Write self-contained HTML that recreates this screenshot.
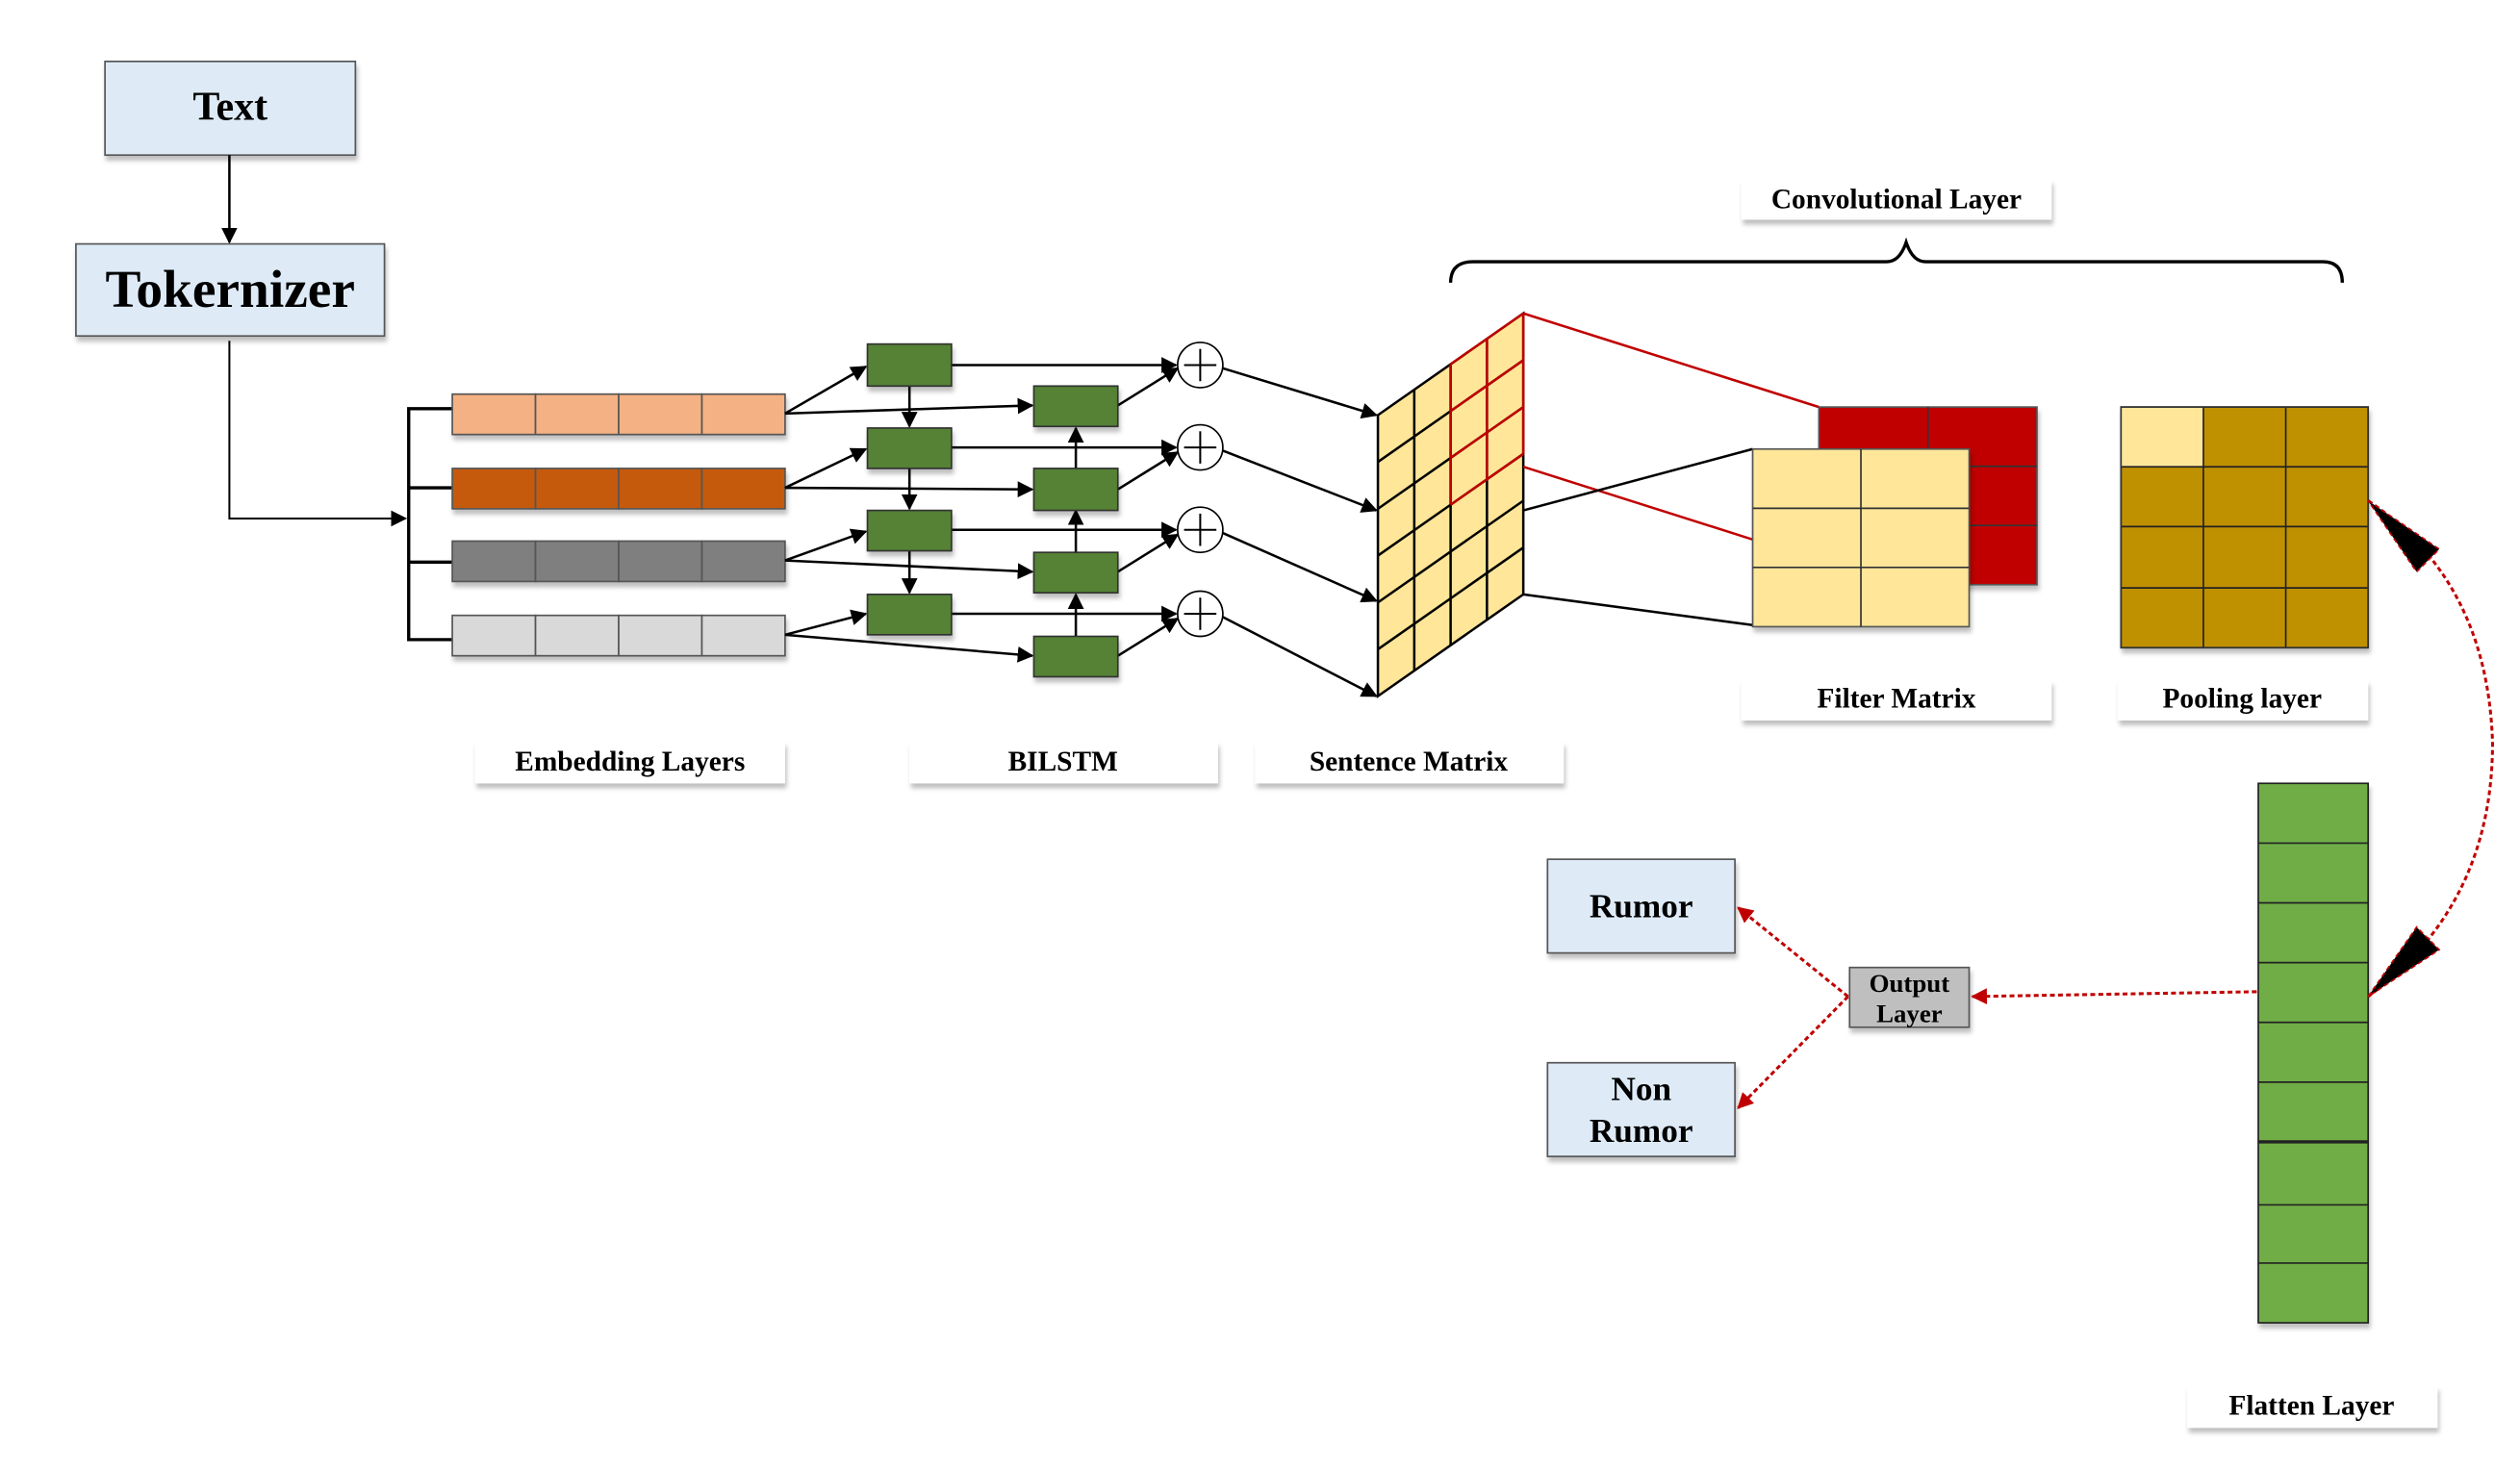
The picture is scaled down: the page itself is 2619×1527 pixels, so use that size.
<!DOCTYPE html>
<html><head><meta charset="utf-8"><style>
html,body{margin:0;padding:0;background:#fff;}
svg{display:block;}
text{font-family:"Liberation Serif",serif;font-weight:bold;fill:#000;}
</style></head><body>
<svg width="2619" height="1527" viewBox="0 0 1560 909.5" xmlns="http://www.w3.org/2000/svg">
<defs>
<marker id="a" markerWidth="10" markerHeight="10" refX="9" refY="5" orient="auto" markerUnits="userSpaceOnUse"><path d="M0,0 L10,5 L0,10 z" fill="#000"/></marker>
<marker id="r" markerWidth="10" markerHeight="10" refX="9" refY="5" orient="auto" markerUnits="userSpaceOnUse"><path d="M0,0 L10,5 L0,10 z" fill="#c00000"/></marker>
<filter id="sh" x="-10%" y="-10%" width="130%" height="150%"><feDropShadow dx="1" dy="3" stdDeviation="1.5" flood-color="#000" flood-opacity="0.25"/></filter>
</defs>

<rect x="65" y="38" width="155" height="58" fill="#deebf7" stroke="#555" stroke-width="1" filter="url(#sh)"/>
<text x="142.5" y="74" font-size="25" text-anchor="middle">Text</text>
<line x1="142" y1="96" x2="142" y2="150" stroke="#000" stroke-width="1.5" marker-end="url(#a)"/>
<rect x="47" y="151" width="191" height="57" fill="#deebf7" stroke="#555" stroke-width="1" filter="url(#sh)"/>
<text x="142.5" y="190" font-size="33" text-anchor="middle">Tokernizer</text>
<polyline points="142,211 142,321 251,321" fill="none" stroke="#000" stroke-width="1.2" marker-end="url(#a)"/>

<polyline points="280,253 253,253 253,396 280,396" fill="none" stroke="#000" stroke-width="2"/>
<line x1="253" y1="302" x2="280" y2="302" stroke="#000" stroke-width="2"/>
<line x1="253" y1="348" x2="280" y2="348" stroke="#000" stroke-width="2"/>

<g stroke="#555" stroke-width="1" filter="url(#sh)">
<g fill="#f4b183"><rect x="280" y="244" width="51.5" height="25"/><rect x="331.5" y="244" width="51.5" height="25"/><rect x="383" y="244" width="51.5" height="25"/><rect x="434.5" y="244" width="51.5" height="25"/></g>
<g fill="#c55a11"><rect x="280" y="290" width="51.5" height="25"/><rect x="331.5" y="290" width="51.5" height="25"/><rect x="383" y="290" width="51.5" height="25"/><rect x="434.5" y="290" width="51.5" height="25"/></g>
<g fill="#7f7f7f"><rect x="280" y="335" width="51.5" height="25"/><rect x="331.5" y="335" width="51.5" height="25"/><rect x="383" y="335" width="51.5" height="25"/><rect x="434.5" y="335" width="51.5" height="25"/></g>
<g fill="#d9d9d9"><rect x="280" y="381" width="51.5" height="25"/><rect x="331.5" y="381" width="51.5" height="25"/><rect x="383" y="381" width="51.5" height="25"/><rect x="434.5" y="381" width="51.5" height="25"/></g>
</g>

<g stroke="#000" stroke-width="1.5" fill="none">
<line x1="486" y1="256" x2="536" y2="227" marker-end="url(#a)"/>
<line x1="486" y1="256" x2="639" y2="251" marker-end="url(#a)"/>
<line x1="486" y1="302" x2="536" y2="278" marker-end="url(#a)"/>
<line x1="486" y1="302" x2="639" y2="303" marker-end="url(#a)"/>
<line x1="486" y1="347" x2="536" y2="329" marker-end="url(#a)"/>
<line x1="486" y1="347" x2="639" y2="354" marker-end="url(#a)"/>
<line x1="486" y1="393" x2="536" y2="380" marker-end="url(#a)"/>
<line x1="486" y1="393" x2="639" y2="406" marker-end="url(#a)"/>
<line x1="563" y1="239" x2="563" y2="264" marker-end="url(#a)"/>
<line x1="563" y1="290" x2="563" y2="315" marker-end="url(#a)"/>
<line x1="563" y1="341" x2="563" y2="367" marker-end="url(#a)"/>
<line x1="666" y1="290" x2="666" y2="265" marker-end="url(#a)"/>
<line x1="666" y1="342" x2="666" y2="316" marker-end="url(#a)"/>
<line x1="666" y1="394" x2="666" y2="368" marker-end="url(#a)"/>
<line x1="589" y1="226" x2="728" y2="226" marker-end="url(#a)"/>
<line x1="589" y1="277" x2="728" y2="277" marker-end="url(#a)"/>
<line x1="589" y1="328" x2="728" y2="328" marker-end="url(#a)"/>
<line x1="589" y1="380" x2="728" y2="380" marker-end="url(#a)"/>
<line x1="692" y1="251" x2="729" y2="228" marker-end="url(#a)"/>
<line x1="692" y1="303" x2="729" y2="280" marker-end="url(#a)"/>
<line x1="692" y1="354" x2="729" y2="331" marker-end="url(#a)"/>
<line x1="692" y1="406" x2="729" y2="383" marker-end="url(#a)"/>
<line x1="757" y1="228" x2="852" y2="257" marker-end="url(#a)"/>
<line x1="757" y1="279" x2="852" y2="316" marker-end="url(#a)"/>
<line x1="757" y1="330" x2="852" y2="372" marker-end="url(#a)"/>
<line x1="757" y1="382" x2="852" y2="431" marker-end="url(#a)"/>
</g>

<g fill="#548235" stroke="#333" stroke-width="1" filter="url(#sh)">
<rect x="537" y="213" width="52" height="26"/><rect x="537" y="265" width="52" height="25"/><rect x="537" y="316" width="52" height="25"/><rect x="537" y="368" width="52" height="25"/>
<rect x="640" y="239" width="52" height="25"/><rect x="640" y="290" width="52" height="26"/><rect x="640" y="342" width="52" height="25"/><rect x="640" y="394" width="52" height="25"/>
</g>
<g fill="#fff" stroke="#000" stroke-width="1">
<circle cx="743" cy="226" r="14"/><circle cx="743" cy="277" r="14"/><circle cx="743" cy="328" r="14"/><circle cx="743" cy="380" r="14"/>
</g>
<g stroke="#000" stroke-width="1.2">
<line x1="733" y1="226" x2="753" y2="226"/><line x1="743" y1="216" x2="743" y2="236"/>
<line x1="733" y1="277" x2="753" y2="277"/><line x1="743" y1="267" x2="743" y2="287"/>
<line x1="733" y1="328" x2="753" y2="328"/><line x1="743" y1="318" x2="743" y2="338"/>
<line x1="733" y1="380" x2="753" y2="380"/><line x1="743" y1="370" x2="743" y2="390"/>
</g>

<polygon points="853,257 943,194 943,368 853,431" fill="#ffe699" stroke="#000" stroke-width="1.5"/>
<g stroke="#000" stroke-width="1.5">
<line x1="875.5" y1="241.3" x2="875.5" y2="415.3"/>
<line x1="898" y1="225.5" x2="898" y2="399.5"/>
<line x1="920.5" y1="209.8" x2="920.5" y2="383.8"/>
<line x1="853" y1="286" x2="943" y2="223"/>
<line x1="853" y1="315" x2="943" y2="252"/>
<line x1="853" y1="344" x2="943" y2="281"/>
<line x1="853" y1="373" x2="943" y2="310"/>
<line x1="853" y1="402" x2="943" y2="339"/>
</g>
<g stroke="#c00000" stroke-width="1.5">
<line x1="898" y1="225.5" x2="943" y2="194"/>
<line x1="898" y1="225.5" x2="898" y2="312.5"/>
<line x1="920.5" y1="209.8" x2="920.5" y2="296.8"/>
<line x1="943" y1="194" x2="943" y2="281"/>
<line x1="898" y1="254.5" x2="943" y2="223"/>
<line x1="898" y1="283.5" x2="943" y2="252"/>
<line x1="898" y1="312.5" x2="943" y2="281"/>
</g>

<line x1="943" y1="194" x2="1126" y2="252" stroke="#c00000" stroke-width="1.5"/>
<line x1="943" y1="289" x2="1085" y2="334" stroke="#c00000" stroke-width="1.5"/>

<g filter="url(#sh)"><rect x="1126" y="252" width="135" height="110" fill="#c00000" stroke="#555"/></g>
<g stroke="#333" stroke-width="1"><line x1="1193.5" y1="252" x2="1193.5" y2="362"/><line x1="1126" y1="288.7" x2="1261" y2="288.7"/><line x1="1126" y1="325.3" x2="1261" y2="325.3"/></g>
<line x1="943" y1="316" x2="1085" y2="278" stroke="#000" stroke-width="1.5"/>
<line x1="943" y1="368" x2="1085" y2="387" stroke="#000" stroke-width="1.5"/>
<g filter="url(#sh)"><rect x="1085" y="278" width="134" height="110" fill="#ffe699" stroke="#555"/></g>
<g stroke="#333" stroke-width="1"><line x1="1152" y1="278" x2="1152" y2="388"/><line x1="1085" y1="314.7" x2="1219" y2="314.7"/><line x1="1085" y1="351.3" x2="1219" y2="351.3"/></g>

<g filter="url(#sh)"><rect x="1313" y="252" width="153" height="149" fill="#bf9000" stroke="#333"/></g>
<rect x="1313" y="252" width="51" height="37" fill="#ffe699"/>
<g stroke="#222" stroke-width="1"><line x1="1364" y1="252" x2="1364" y2="401"/><line x1="1415" y1="252" x2="1415" y2="401"/>
<line x1="1313" y1="289" x2="1466" y2="289"/><line x1="1313" y1="326" x2="1466" y2="326"/><line x1="1313" y1="364" x2="1466" y2="364"/></g>
<rect x="1313" y="252" width="153" height="149" fill="none" stroke="#333"/>

<path d="M898,175 Q898,162 912,162 L1168,162 Q1176,162 1180,150 Q1184,162 1192,162 L1438,162 Q1450,162 1450,175" fill="none" stroke="#000" stroke-width="2"/>

<g fill="#fff" filter="url(#sh)">
<rect x="1078" y="111" width="192" height="25"/>
<rect x="1078" y="421" width="192" height="25"/>
<rect x="1311" y="421" width="155" height="25"/>
<rect x="294" y="459" width="192" height="26"/>
<rect x="563" y="459" width="191" height="26"/>
<rect x="777" y="459" width="191" height="26"/>
<rect x="1354" y="858" width="155" height="26"/>
</g>
<g font-size="17.5" text-anchor="middle">
<text x="1174" y="129">Convolutional Layer</text>
<text x="1174" y="438">Filter Matrix</text>
<text x="1388" y="438">Pooling layer</text>
<text x="390" y="477">Embedding Layers</text>
<text x="658" y="477">BILSTM</text>
<text x="872" y="477">Sentence Matrix</text>
<text x="1431" y="876">Flatten Layer</text>
</g>

<g filter="url(#sh)"><rect x="1398" y="485" width="68" height="334" fill="#70ad47" stroke="#222"/></g>
<g stroke="#222" stroke-width="1">
<line x1="1398" y1="522" x2="1466" y2="522"/><line x1="1398" y1="559" x2="1466" y2="559"/><line x1="1398" y1="596" x2="1466" y2="596"/><line x1="1398" y1="633" x2="1466" y2="633"/><line x1="1398" y1="670" x2="1466" y2="670"/><line x1="1398" y1="707" x2="1466" y2="707" stroke-width="2"/><line x1="1398" y1="746" x2="1466" y2="746"/><line x1="1398" y1="782" x2="1466" y2="782"/>
</g>

<g filter="url(#sh)">
<rect x="958" y="532" width="116" height="58" fill="#deebf7" stroke="#555"/>
<rect x="958" y="658" width="116" height="58" fill="#deebf7" stroke="#555"/>
<rect x="1145" y="599" width="74" height="37" fill="#bfbfbf" stroke="#555"/>
</g>
<text x="1016" y="568" font-size="21" text-anchor="middle">Rumor</text>
<text x="1016" y="681" font-size="21" text-anchor="middle">Non</text>
<text x="1016" y="707" font-size="21" text-anchor="middle">Rumor</text>
<text x="1182" y="614" font-size="16" text-anchor="middle">Output</text>
<text x="1182" y="633" font-size="16" text-anchor="middle">Layer</text>

<g stroke="#c00000" stroke-width="1.8" stroke-dasharray="3,2" fill="none">
<line x1="1397" y1="614" x2="1221" y2="617" marker-end="url(#r)"/>
<line x1="1144" y1="617" x2="1076" y2="562" marker-end="url(#r)"/>
<line x1="1144" y1="617" x2="1076" y2="686" marker-end="url(#r)"/>
<path d="M1466,310 Q1540,360 1543,460 Q1543,560 1466,617"/>
</g>
<polygon points="1466,310 1510,340 1496,354" fill="#000" stroke="#c00000" stroke-width="1" stroke-dasharray="3,2"/>
<polygon points="1466,617 1496,574 1510,588" fill="#000" stroke="#c00000" stroke-width="1" stroke-dasharray="3,2"/>
</svg>
</body></html>
